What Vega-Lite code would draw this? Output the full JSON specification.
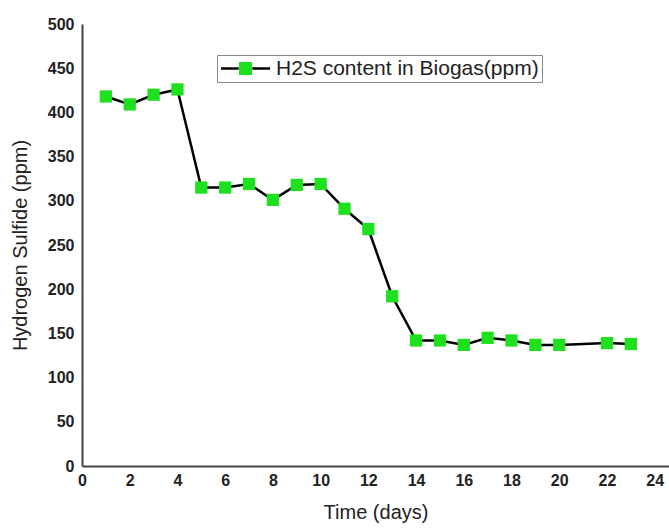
{
  "$schema": "https://vega.github.io/schema/vega-lite/v6.json",
  "autosize": {"type": "none"},
  "width": 587,
  "height": 442,
  "padding": {"left": 82, "top": 24, "right": 0, "bottom": 63},
  "background": "white",
  "config": {
    "view": {"stroke": null},
    "font": "Liberation Sans",
    "axis": {
      "grid": false,
      "ticks": false,
      "domainColor": "#444444",
      "domainWidth": 2,
      "labelFont": "Liberation Sans",
      "labelFontWeight": "bold",
      "labelFontSize": 16,
      "labelColor": "#222222",
      "titleFont": "Liberation Sans",
      "titleFontWeight": "normal",
      "titleFontSize": 20,
      "titleColor": "#222222"
    }
  },
  "data": {
    "values": [
      {"day": 1, "h2s": 418, "series": "H2S content in Biogas(ppm)"},
      {"day": 2, "h2s": 409, "series": "H2S content in Biogas(ppm)"},
      {"day": 3, "h2s": 420, "series": "H2S content in Biogas(ppm)"},
      {"day": 4, "h2s": 426, "series": "H2S content in Biogas(ppm)"},
      {"day": 5, "h2s": 315, "series": "H2S content in Biogas(ppm)"},
      {"day": 6, "h2s": 315, "series": "H2S content in Biogas(ppm)"},
      {"day": 7, "h2s": 319, "series": "H2S content in Biogas(ppm)"},
      {"day": 8, "h2s": 301, "series": "H2S content in Biogas(ppm)"},
      {"day": 9, "h2s": 318, "series": "H2S content in Biogas(ppm)"},
      {"day": 10, "h2s": 319, "series": "H2S content in Biogas(ppm)"},
      {"day": 11, "h2s": 291, "series": "H2S content in Biogas(ppm)"},
      {"day": 12, "h2s": 268, "series": "H2S content in Biogas(ppm)"},
      {"day": 13, "h2s": 192, "series": "H2S content in Biogas(ppm)"},
      {"day": 14, "h2s": 142, "series": "H2S content in Biogas(ppm)"},
      {"day": 15, "h2s": 142, "series": "H2S content in Biogas(ppm)"},
      {"day": 16, "h2s": 137, "series": "H2S content in Biogas(ppm)"},
      {"day": 17, "h2s": 145, "series": "H2S content in Biogas(ppm)"},
      {"day": 18, "h2s": 142, "series": "H2S content in Biogas(ppm)"},
      {"day": 19, "h2s": 137, "series": "H2S content in Biogas(ppm)"},
      {"day": 20, "h2s": 137, "series": "H2S content in Biogas(ppm)"},
      {"day": 22, "h2s": 139, "series": "H2S content in Biogas(ppm)"},
      {"day": 23, "h2s": 138, "series": "H2S content in Biogas(ppm)"}
    ]
  },
  "encoding": {
    "x": {
      "field": "day",
      "type": "quantitative",
      "scale": {"domain": [0, 24.6], "nice": false, "zero": false},
      "axis": {
        "title": "Time (days)",
        "values": [0, 2, 4, 6, 8, 10, 12, 14, 16, 18, 20, 22, 24],
        "labelPadding": 6,
        "titlePadding": 14,
        "labelFlush": false
      }
    },
    "y": {
      "field": "h2s",
      "type": "quantitative",
      "scale": {"domain": [0, 500], "nice": false},
      "axis": {
        "title": "Hydrogen Sulfide (ppm)",
        "values": [0, 50, 100, 150, 200, 250, 300, 350, 400, 450, 500],
        "labelPadding": 8,
        "titlePadding": 17,
        "labelFlush": false
      }
    }
  },
  "layer": [
    {
      "mark": {"type": "line", "strokeWidth": 2.5},
      "encoding": {
        "stroke": {
          "field": "series",
          "type": "nominal",
          "scale": {"range": ["#000000"]},
          "legend": {
            "title": null,
            "orient": "none",
            "legendX": 135,
            "legendY": 31,
            "padding": 3,
            "strokeColor": "#888888",
            "fillColor": "white",
            "symbolType": "M-3.06,0H-0.85M0.85,0H3.06",
            "symbolSize": 256,
            "symbolOffset": 15,
            "symbolStrokeWidth": 2.5,
            "symbolStrokeColor": "#000000",
            "labelFont": "Liberation Sans",
            "labelFontSize": 21,
            "labelColor": "#222222",
            "labelOffset": 20,
            "labelLimit": 400
          }
        }
      }
    },
    {
      "mark": {"type": "square", "size": 150, "opacity": 1, "filled": true},
      "encoding": {
        "fill": {
          "datum": "marker",
          "scale": {"range": ["#1fe01f"]},
          "legend": {
            "title": null,
            "orient": "none",
            "legendX": 135,
            "legendY": 31,
            "padding": 3,
            "symbolType": "square",
            "symbolSize": 169,
            "symbolOffset": 15,
            "symbolFillColor": "#1fe01f",
            "symbolStrokeWidth": 0,
            "symbolOpacity": 1,
            "labelExpr": "''",
            "labelFontSize": 21
          }
        }
      }
    }
  ],
  "resolve": {"scale": {"fill": "independent", "stroke": "independent"}}
}
